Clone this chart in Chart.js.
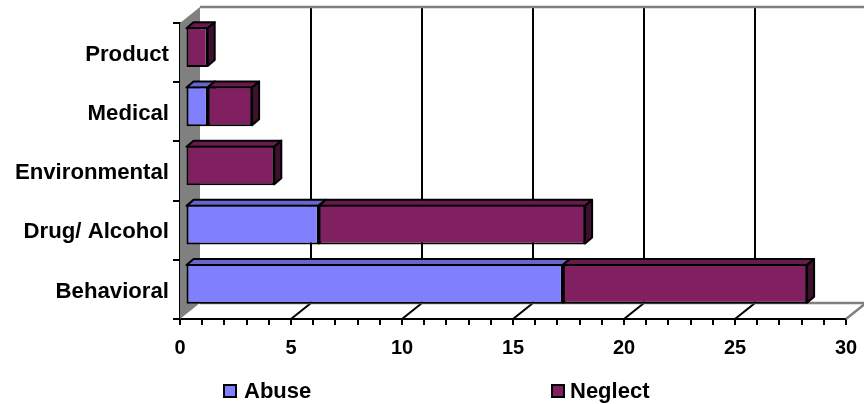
<!DOCTYPE html>
<html>
<head>
<meta charset="utf-8">
<style>
  html, body { margin: 0; padding: 0; background: #fff; }
  canvas { display: block; }
</style>
<script src="https://cdn.jsdelivr.net/npm/chart.js@4/dist/chart.umd.min.js"></script>
</head>
<body>
<canvas id="grafico" width="864" height="404"></canvas>
<script>
const categories = ['Product', 'Medical', 'Environmental', 'Drug/ Alcohol', 'Behavioral'];
const abuse = [0, 1, 0, 6, 17];
const neglect = [1, 2, 4, 12, 11];
const xTicksMax = 30;

const FAMILY = '"Liberation Sans", Arial, sans-serif';

// profundidad del "3D" falso
const wallDx = 20, wallDy = -16;
const barOffsetX = 5.5, barOffsetY = -5.5, barDx = 7, barDy = -6;

// pared gris, suelo y lineas de fondo, por detras de las barras
const fondo = {
  id: 'fondo',
  beforeDatasetsDraw(chart) {
    const { ctx, chartArea: a, scales } = chart;
    const x = scales.x;
    ctx.save();
    ctx.fillStyle = '#808080';
    ctx.beginPath();
    ctx.moveTo(a.left, a.top);
    ctx.lineTo(a.left + wallDx, a.top + wallDy);
    ctx.lineTo(a.left + wallDx, a.bottom + wallDy);
    ctx.lineTo(a.left, a.bottom);
    ctx.closePath();
    ctx.fill();

    for (let v = 5; v < xTicksMax; v += 5) {
      const px = Math.round(x.getPixelForValue(v));
      ctx.strokeStyle = '#000';
      ctx.lineWidth = 2;
      ctx.beginPath();
      ctx.moveTo(px + wallDx, a.top + wallDy);
      ctx.lineTo(px + wallDx, a.bottom + wallDy);
      ctx.lineTo(px, a.bottom);
      ctx.stroke();
    }

    ctx.strokeStyle = '#808080';
    ctx.lineWidth = 2.5;
    ctx.beginPath();
    ctx.moveTo(a.left + wallDx, a.top + wallDy);
    ctx.lineTo(864, a.top + wallDy);
    ctx.stroke();
    ctx.beginPath();
    ctx.moveTo(a.left + wallDx, a.bottom + wallDy);
    ctx.lineTo(864, a.bottom + wallDy);
    ctx.moveTo(a.right + wallDx, a.bottom + wallDy);
    ctx.lineTo(a.right, a.bottom);
    ctx.stroke();
    ctx.restore();

    // caras superior y lateral de cada barra
    ctx.save();
    ctx.translate(barOffsetX, barOffsetY);
    ctx.strokeStyle = '#000';
    ctx.lineWidth = 2;
    ctx.lineJoin = 'round';
    chart.data.datasets.forEach((ds, i) => {
      chart.getDatasetMeta(i).data.forEach((bar, j) => {
        if (!ds.data[j]) return;
        const left = bar.base, right = bar.x;
        const top = bar.y - bar.height / 2 + 1, bottom = bar.y + bar.height / 2 - 1;
        ctx.fillStyle = ds.topColor;
        ctx.beginPath();
        ctx.moveTo(left, top);
        ctx.lineTo(left + barDx, top + barDy);
        ctx.lineTo(right + barDx, top + barDy);
        ctx.lineTo(right, top);
        ctx.closePath();
        ctx.fill();
        ctx.stroke();
        ctx.fillStyle = ds.sideColor;
        ctx.beginPath();
        ctx.moveTo(right, top);
        ctx.lineTo(right + barDx, top + barDy);
        ctx.lineTo(right + barDx, bottom + barDy);
        ctx.lineTo(right, bottom);
        ctx.closePath();
        ctx.fill();
        ctx.stroke();
      });
    });
    // las barras frontales se dibujan con el mismo desplazamiento
  },
  afterDatasetsDraw(chart) {
    chart.ctx.restore();
  }
};

// leyenda con los items muy separados, como en el original
const leyenda = {
  id: 'leyenda',
  afterDraw(chart) {
    const { ctx } = chart;
    const items = [[224, 244], [552, 570]];
    ctx.save();
    ctx.font = 'bold 22px ' + FAMILY;
    ctx.textBaseline = 'alphabetic';
    chart.data.datasets.forEach((ds, i) => {
      ctx.fillStyle = ds.backgroundColor;
      ctx.strokeStyle = '#000';
      ctx.lineWidth = 2;
      ctx.fillRect(items[i][0], 385, 12, 12);
      ctx.strokeRect(items[i][0], 385, 12, 12);
      ctx.fillStyle = '#000';
      ctx.fillText(ds.label, items[i][1], 398);
    });
    ctx.restore();
  }
};

new Chart(document.getElementById('grafico'), {
  type: 'bar',
  data: {
    labels: categories,
    datasets: [
      { label: 'Abuse', data: abuse, backgroundColor: '#8080FF', topColor: '#6666CC', sideColor: '#4C4C99', borderColor: '#000', borderWidth: 2, borderSkipped: false },
      { label: 'Neglect', data: neglect, backgroundColor: '#802060', topColor: '#661A4D', sideColor: '#401030', borderColor: '#000', borderWidth: 2, borderSkipped: false }
    ]
  },
  options: {
    indexAxis: 'y',
    responsive: false,
    animation: false,
    barPercentage: 0.67,
    categoryPercentage: 1,
    layout: { padding: { top: 23, right: 18, bottom: 0, left: 0 } },
    plugins: { legend: { display: false }, tooltip: { enabled: false } },
    scales: {
      x: {
        stacked: true,
        min: 0,
        max: xTicksMax,
        afterFit(scale) {
          scale.height = 85;
          scale.paddingRight = 0;
          scale.paddingLeft = 0;
        },
        border: { color: '#000', width: 2 },
        grid: { drawOnChartArea: false, drawTicks: true, tickLength: 6, tickColor: '#000', lineWidth: 2 },
        ticks: {
          stepSize: 1,
          autoSkip: false,
          maxRotation: 0,
          padding: 11,
          color: '#000',
          font: { family: FAMILY, size: 20, weight: 'bold' },
          // solo se rotulan los multiplos de 5
          callback: v => (v % 5 === 0 ? v : '')
        }
      },
      y: {
        stacked: true,
        afterFit(scale) { scale.width = 180; },
        border: { color: '#000', width: 2 },
        grid: { drawOnChartArea: false, drawTicks: true, tickLength: 7, tickColor: '#000', lineWidth: 2 },
        ticks: {
          padding: 4,
          labelOffset: 2,
          color: '#000',
          font: { family: FAMILY, size: 22.2, weight: 'bold' }
        }
      }
    }
  },
  plugins: [fondo, leyenda]
});
</script>
</body>
</html>
